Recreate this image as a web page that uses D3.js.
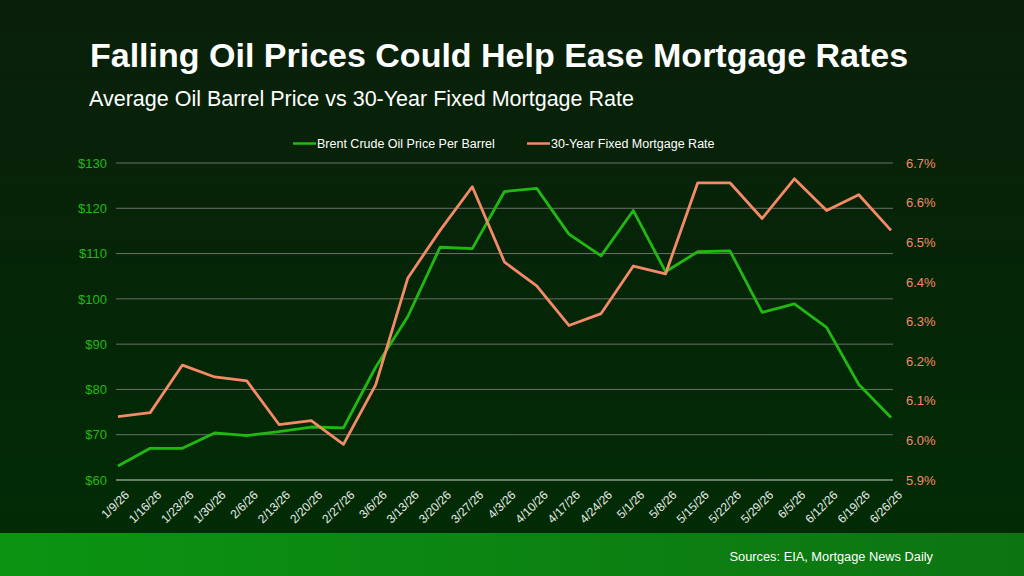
<!DOCTYPE html>
<html>
<head>
<meta charset="utf-8">
<title>Falling Oil Prices Could Help Ease Mortgage Rates</title>
<style>
  body { margin: 0; background: #061f08; }
  svg { display: block; font-family: "Liberation Sans", Arial, sans-serif; }
</style>
</head>
<body>
<main></main>
<script src="https://cdn.jsdelivr.net/npm/d3@7/dist/d3.min.js"></script>
<script>
// data
var dates = ["1/9/26", "1/16/26", "1/23/26", "1/30/26", "2/6/26", "2/13/26", "2/20/26", "2/27/26",
    "3/6/26", "3/13/26", "3/20/26", "3/27/26", "4/3/26", "4/10/26", "4/17/26", "4/24/26",
    "5/1/26", "5/8/26", "5/15/26", "5/22/26", "5/29/26", "6/5/26", "6/12/26", "6/19/26", "6/26/26"];
var oilPrice = [63.1, 67.0, 67.0, 70.4, 69.8, 70.7, 71.7, 71.5,
    84.9, 96.1, 111.4, 111.1, 123.7, 124.4, 114.3, 109.5,
    119.5, 106.0, 110.4, 110.6, 97.0, 98.9, 93.7, 81.1, 73.8];
var mortgageRate = [6.06, 6.07, 6.19, 6.16, 6.15, 6.04, 6.05, 5.99,
    6.14, 6.41, 6.53, 6.64, 6.45, 6.39, 6.29, 6.32,
    6.44, 6.42, 6.65, 6.65, 6.56, 6.66, 6.58, 6.62, 6.53];
var oilTicks = [60, 70, 80, 90, 100, 110, 120, 130];
var rateTicks = [5.9, 6.0, 6.1, 6.2, 6.3, 6.4, 6.5, 6.6, 6.7];
var seriesNames = ["Brent Crude Oil Price Per Barrel", "30-Year Fixed Mortgage Rate"];

var width = 1024, height = 576;
var green = "#22b812", orange = "#f58a66";

var svg = d3.select("main").append("svg")
    .attr("width", width).attr("height", height);

// background gradients
var defs = svg.append("defs");
var bg = defs.append("linearGradient").attr("id", "bg")
    .attr("x1", 0).attr("y1", 0).attr("x2", 0).attr("y2", 1);
bg.append("stop").attr("offset", "0%").attr("stop-color", "#0a1f0a");
bg.append("stop").attr("offset", "100%").attr("stop-color", "#012b05");
var foot = defs.append("linearGradient").attr("id", "foot")
    .attr("x1", 0).attr("y1", 0).attr("x2", 1).attr("y2", 0);
foot.append("stop").attr("offset", "0%").attr("stop-color", "#0b9412");
foot.append("stop").attr("offset", "100%").attr("stop-color", "#0d7412");

svg.append("rect").attr("width", width).attr("height", 533).attr("fill", "url(#bg)");
svg.append("rect").attr("y", 533).attr("width", width).attr("height", height - 533)
    .attr("fill", "url(#foot)");

// titles
svg.append("text").attr("x", 90).attr("y", 67)
    .attr("fill", "#fff").attr("font-size", 34).attr("font-weight", "bold")
    .text("Falling Oil Prices Could Help Ease Mortgage Rates");
svg.append("text").attr("x", 89).attr("y", 106)
    .attr("fill", "#fff").attr("font-size", 21.5)
    .text("Average Oil Barrel Price vs 30-Year Fixed Mortgage Rate");

// scales
var plotLeft = 116, plotRight = 893, plotTop = 163, plotBottom = 480;
var x = d3.scalePoint().domain(dates).range([118, 891]);
var yOil = d3.scaleLinear().domain([60, 130]).range([plotBottom, plotTop]);
var yRate = d3.scaleLinear().domain([5.9, 6.7]).range([plotBottom, plotTop]);

// gridlines
svg.append("g").selectAll("line").data(oilTicks).join("line")
    .attr("x1", plotLeft).attr("x2", plotRight)
    .attr("y1", d => yOil(d)).attr("y2", d => yOil(d))
    .attr("stroke", d => d === 60 ? "#c8d0c8" : "#6b6f6b")
    .attr("stroke-width", 1);

// left axis
var leftAxis = svg.append("g").attr("transform", "translate(" + (plotLeft - 6) + ",0)")
    .call(d3.axisLeft(yOil).tickValues(oilTicks).tickSize(0).tickFormat(d => "$" + d));
leftAxis.select(".domain").remove();
leftAxis.selectAll("text").attr("fill", green).attr("font-size", 13)
    .attr("font-family", "Liberation Sans, Arial, sans-serif");

// right axis
var rightAxis = svg.append("g").attr("transform", "translate(" + (plotRight + 10) + ",0)")
    .call(d3.axisRight(yRate).tickValues(rateTicks).tickSize(0));
rightAxis.select(".domain").remove();
rightAxis.selectAll("text").attr("fill", orange).attr("font-size", 13)
    .attr("font-family", "Liberation Sans, Arial, sans-serif")
    .text(d => d3.format(".1f")(d) + "%");

// x axis
var xAxis = svg.append("g").attr("transform", "translate(0," + (plotBottom + 6) + ")")
    .call(d3.axisBottom(x).tickSize(0));
xAxis.select(".domain").remove();
xAxis.selectAll("text")
    .attr("fill", "#e8ece8").attr("font-size", 12)
    .attr("font-family", "Liberation Sans, Arial, sans-serif")
    .attr("text-anchor", "end")
    .attr("dx", "0.1em").attr("dy", "1.0em")
    .attr("transform", "rotate(-45)");

// lines
var oilLine = d3.line().x((d, i) => x(dates[i])).y(d => yOil(d));
var rateLine = d3.line().x((d, i) => x(dates[i])).y(d => yRate(d));

svg.append("path").datum(oilPrice)
    .attr("fill", "none").attr("stroke", green).attr("stroke-width", 2.8)
    .attr("stroke-linejoin", "round").attr("d", oilLine);
svg.append("path").datum(mortgageRate)
    .attr("fill", "none").attr("stroke", orange).attr("stroke-width", 2.8)
    .attr("stroke-linejoin", "round").attr("d", rateLine);

// legend
var legend = svg.append("g").attr("font-size", 12.5).attr("fill", "#fff");
var legendX = [293, 527];
[green, orange].forEach(function (c, i) {
    legend.append("line")
        .attr("x1", legendX[i]).attr("x2", legendX[i] + 23)
        .attr("y1", 143.5).attr("y2", 143.5)
        .attr("stroke", c).attr("stroke-width", 2.5);
    legend.append("text")
        .attr("x", legendX[i] + 24).attr("y", 148)
        .text(seriesNames[i]);
});

// footer
svg.append("text").attr("x", 933).attr("y", 561)
    .attr("text-anchor", "end").attr("fill", "#fff").attr("font-size", 12.8)
    .text("Sources: EIA, Mortgage News Daily");
</script>
</body>
</html>
